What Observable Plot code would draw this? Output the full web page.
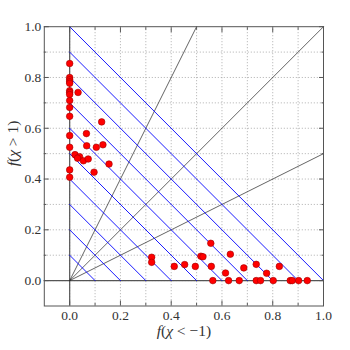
<!DOCTYPE html>
<html><head><meta charset="utf-8">
<script src="https://cdn.jsdelivr.net/npm/d3@7"></script>
<script src="https://cdn.jsdelivr.net/npm/@observablehq/plot@0.6"></script>
<style>body{margin:0;background:#fff}#chart{width:350px;height:350px}</style>
</head><body><div id="chart"></div>
<script>
// f(chi < -1) values
const fracBelow = [
  0, 0, 0, 0, 0, 0, 0, 0, 0, 0, 0, 0, 0, 0, 0,
  0.033, 0.066, 0.126, 0.067, 0.105, 0.131, 0.021, 0.039, 0.031, 0.054, 0.073, 0.155, 0.096,
  0.323, 0.323, 0.412, 0.453, 0.495, 0.517, 0.525, 0.558, 0.556, 0.564, 0.633, 0.614, 0.626,
  0.668, 0.686, 0.735, 0.735, 0.752, 0.776, 0.802, 0.826, 0.869, 0.877, 0.902, 0.936
];
// f(chi > 1) values
const fracAbove = [
  0.855, 0.800, 0.791, 0.783, 0.777, 0.748, 0.741, 0.733, 0.709, 0.682, 0.647, 0.571, 0.525, 0.436, 0.407,
  0.741, 0.579, 0.625, 0.531, 0.525, 0.535, 0.496, 0.488, 0.482, 0.472, 0.479, 0.459, 0.427,
  0.092, 0.072, 0.056, 0.063, 0.056, 0.096, 0.094, 0.056, 0.147, 0, 0.104, 0.030, 0,
  0, 0.050, 0.064, 0, 0, 0.029, 0, 0.056, 0, 0, 0, 0
];
const sumLevels = [0.1, 0.2, 0.3, 0.4, 0.5, 0.6, 0.7, 0.8, 0.9, 1.0];
const raySlopes = [0.5, 1, 2];
const majorTicks = [0, 0.2, 0.4, 0.6, 0.8, 1.0];
const minorTicks = [0.1, 0.3, 0.5, 0.7, 0.9];
const gridTicks = [0, 0.1, 0.2, 0.3, 0.4, 0.5, 0.6, 0.7, 0.8, 0.9];
const xLabelParts = [["f", true], ["(", false], ["χ", true], [" < −1)", false]];
const yLabelParts = [["f", true], ["(", false], ["χ", true], [" > 1)", false]];

const xLabel = xLabelParts.map(p => p[0]).join("");
const yLabel = yLabelParts.map(p => p[0]).join("");
const points = fracBelow.map((x, i) => ({x, y: fracAbove[i]}));
// endpoints of each constant-sum line (on the axes) and each ray from the origin
const levelPts = sumLevels.flatMap(c => [{c, x: 0, y: c}, {c, x: c, y: 0}]);
const rayPts = raySlopes.flatMap(s => [{s, x: 0, y: 0}, {s, x: Math.min(1, 1 / s), y: Math.min(1, s)}]);
const fmt = d3.format(".1f");
const axisColor = "#555";
const textColor = "#333";

const tickAxes = [];
for (const anchor of ["bottom", "top"]) {
  tickAxes.push(Plot.axisX(majorTicks, {anchor, tickSize: -5, fill: "none", stroke: axisColor, label: null}));
  tickAxes.push(Plot.axisX(minorTicks, {anchor, tickSize: -2.5, fill: "none", stroke: axisColor, label: null}));
}
for (const anchor of ["left", "right"]) {
  tickAxes.push(Plot.axisY(majorTicks, {anchor, tickSize: -5, fill: "none", stroke: axisColor, label: null}));
  tickAxes.push(Plot.axisY(minorTicks, {anchor, tickSize: -2.5, fill: "none", stroke: axisColor, label: null}));
}

const plot = Plot.plot({
  width: 350, height: 350,
  marginLeft: 43.8, marginRight: 27, marginTop: 26.2, marginBottom: 44.5,
  x: {domain: [-0.1, 1]},
  y: {domain: [-0.1, 1]},
  style: {fontFamily: "'Liberation Serif', serif", fontSize: "13.5px", color: textColor, background: "#fff", overflow: "visible"},
  marks: [
    Plot.gridX(gridTicks, {stroke: "#9a9a9a", strokeOpacity: 1, strokeDasharray: "1,2", strokeWidth: 0.8}),
    Plot.gridY(gridTicks, {stroke: "#9a9a9a", strokeOpacity: 1, strokeDasharray: "1,2", strokeWidth: 0.8}),
    Plot.ruleX([0], {stroke: "#555", strokeWidth: 1.2}),
    Plot.ruleY([0], {stroke: "#555", strokeWidth: 1.2}),
    Plot.line(rayPts, {x: "x", y: "y", z: "s", stroke: "#222", strokeWidth: 0.7}),
    Plot.line(levelPts, {x: "x", y: "y", z: "c", stroke: "#0000ff", strokeOpacity: 1, strokeWidth: 0.9}),
    Plot.dot(points, {x: "x", y: "y", r: 3.3, fill: "#ff0000", stroke: "#a00000", strokeWidth: 0.6}),
    Plot.frame({stroke: axisColor, strokeWidth: 1}),
    ...tickAxes,
    Plot.axisX(majorTicks, {anchor: "bottom", tickSize: 0, tickPadding: 4, tickFormat: fmt, fill: textColor, label: null}),
    Plot.axisY(majorTicks, {anchor: "left", tickSize: 0, tickPadding: 3, tickFormat: fmt, fill: textColor, label: null}),
    Plot.text([xLabel], {frameAnchor: "bottom", dy: 30, text: d => d, fontSize: 15.5, fill: textColor}),
    Plot.text([yLabel], {frameAnchor: "left", dx: -31, rotate: -90, text: d => d, fontSize: 15.5, fill: textColor})
  ]
});

function setParts(label, parts) {
  for (const t of plot.querySelectorAll("text")) {
    if (t.textContent === label) {
      t.textContent = "";
      for (const [s, it] of parts) {
        const ts = document.createElementNS("http://www.w3.org/2000/svg", "tspan");
        ts.textContent = s;
        if (it) ts.setAttribute("font-style", "italic");
        t.appendChild(ts);
      }
    }
  }
}
setParts(xLabel, xLabelParts);
setParts(yLabel, yLabelParts);

document.getElementById("chart").appendChild(plot);
</script>
</body></html>
